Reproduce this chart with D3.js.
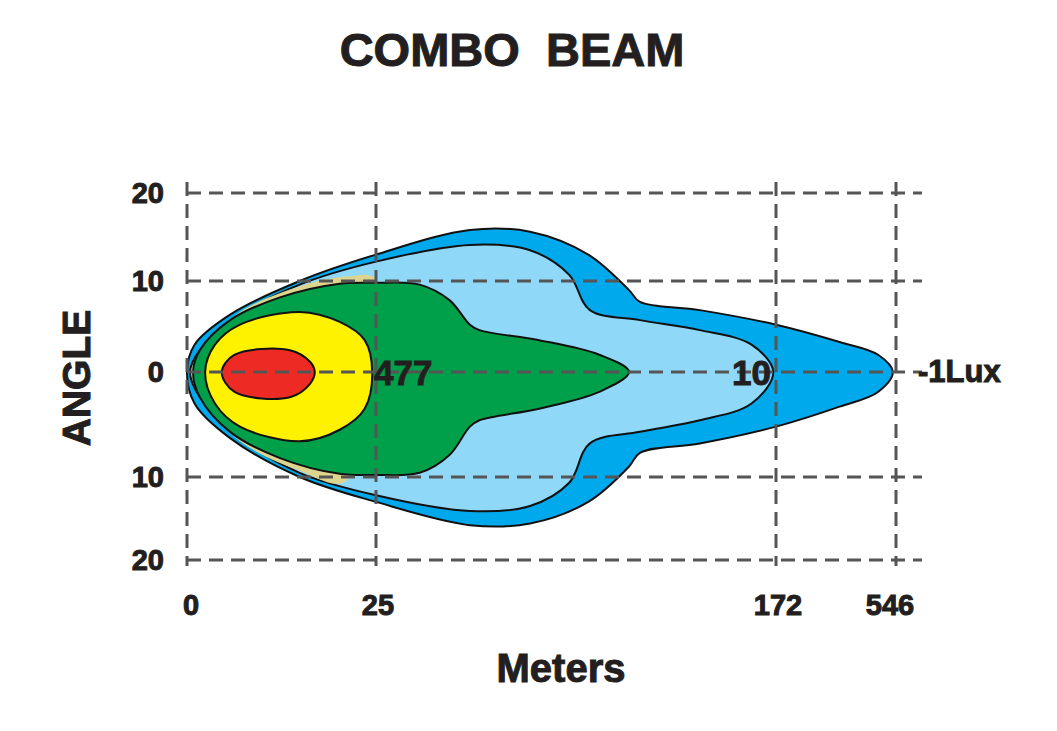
<!DOCTYPE html>
<html><head><meta charset="utf-8">
<script src="https://cdn.jsdelivr.net/npm/d3@7"></script>
<style>body{margin:0;background:#fff}text{font-family:"Liberation Sans",Arial,sans-serif;font-weight:bold;fill:#231f20;stroke:#231f20;stroke-width:1}</style>
</head><body>
<script>
// tick values
var xTicks = [0, 25, 172, 546];
var yTicks = [20, 10, 0, -10, -20];
// beam contours, upper half as [meters, degrees]; mirrored below
var outerBlue = [[0,0],[1,3],[5.7,6.3],[14.9,10],[25,13],[59.5,15.8],[81.6,15.6],[103,13],[118,9],[122,7.7],[144,6.8],[172,5.2],[370,3.3],[490,1.9],[536,0]];
var lightBlue = [[0.4,0],[1.7,2.4],[7,6.3],[14.9,9.6],[25,12.2],[59.5,14.1],[81.6,13.5],[96,10.7],[103.6,6.8],[122,5.7],[144,4.6],[163,3],[171,0]];
var tan = [[0.6,0],[2,2.6],[7,6.6],[14.9,9.4],[21,10.5],[25,10.2]];
var green = [[0.8,0],[1.7,2.4],[5.7,5.7],[12.3,8.2],[20.2,9.7],[25,9.8],[41,9.6],[52,7.9],[59.5,5.2],[63,4.6],[85,3.5],[107,1.9],[118,0]];
var yellow = [[2.4,0],[3.7,3],[7,5.2],[14.9,6.6],[20.2,5.5],[23.5,3.5],[24.5,0]];
var red = [[4.6,0],[6.3,1.9],[13.6,2.4],[16.3,1.1],[16.9,0]];
var layers = [
  {pts: outerBlue, fill: "#00a8ec", stroke: true},
  {pts: lightBlue, fill: "#90d8f8", stroke: true},
  {pts: tan, fill: "#ddd58e", stroke: false},
  {pts: green, fill: "#00a04b", stroke: true},
  {pts: yellow, fill: "#fff200", stroke: true},
  {pts: red, fill: "#ee2a24", stroke: true}
];
var isoLabels = [{m: 35, t: "477"}, {m: 163, t: "10"}];

var svg = d3.select("body").append("svg").attr("width", 1057).attr("height", 731);
var x = d3.scaleLinear().domain(xTicks).range([187, 376, 776, 896]);
var y = d3.scaleLinear().domain(yTicks).range([193, 281, 372, 477, 560]);

var line = d3.line().x(function(d){return x(d[0]);}).y(function(d){return y(d[1]);})
  .curve(d3.curveCatmullRomClosed.alpha(0.5));

layers.forEach(function(l) {
  var upper = l.pts;
  var lower = l.pts.slice(1, -1).reverse().map(function(d){return [d[0], -d[1]];});
  svg.append("path").attr("d", line(upper.concat(lower)))
    .attr("fill", l.fill)
    .attr("stroke", l.stroke ? "#111" : "none")
    .attr("stroke-width", 2);
});

// dashed grid
var g = svg.append("g").attr("stroke", "#555").attr("stroke-width", 3).attr("stroke-dasharray", "14,8");
yTicks.forEach(function(v) {
  g.append("line").attr("x1", 187).attr("x2", 922).attr("y1", y(v)).attr("y2", y(v));
});
xTicks.forEach(function(v) {
  g.append("line").attr("x1", x(v)).attr("x2", x(v)).attr("y1", 182).attr("y2", 566);
});

yTicks.forEach(function(v) {
  svg.append("text").attr("x", 164).attr("y", y(v)).attr("dy", "0.36em")
    .attr("text-anchor", "end").attr("font-size", 29).text(Math.abs(v));
});
xTicks.forEach(function(v) {
  svg.append("text").attr("x", x(v) + (v === 0 ? 4 : (v === 546 ? -6 : 2))).attr("y", 615)
    .attr("text-anchor", "middle").attr("font-size", 29).text(v);
});
isoLabels.forEach(function(d) {
  svg.append("text").attr("x", x(d.m)).attr("y", y(0)).attr("dy", "0.36em")
    .attr("text-anchor", "middle").attr("font-size", 35).text(d.t);
});
svg.append("text").attr("x", 918).attr("y", y(0)).attr("dy", "0.33em")
  .attr("font-size", 31).text("-1Lux");

svg.append("text").attr("x", 512).attr("y", 66).attr("text-anchor", "middle")
  .attr("font-size", 47).attr("stroke-width", 1.6).attr("xml:space", "preserve").text("COMBO  BEAM");
svg.append("text").attr("x", 561).attr("y", 682).attr("text-anchor", "middle")
  .attr("font-size", 40).text("Meters");
svg.append("text").attr("transform", "translate(90,378) rotate(-90)")
  .attr("text-anchor", "middle").attr("font-size", 39).text("ANGLE");
</script>
</body></html>
